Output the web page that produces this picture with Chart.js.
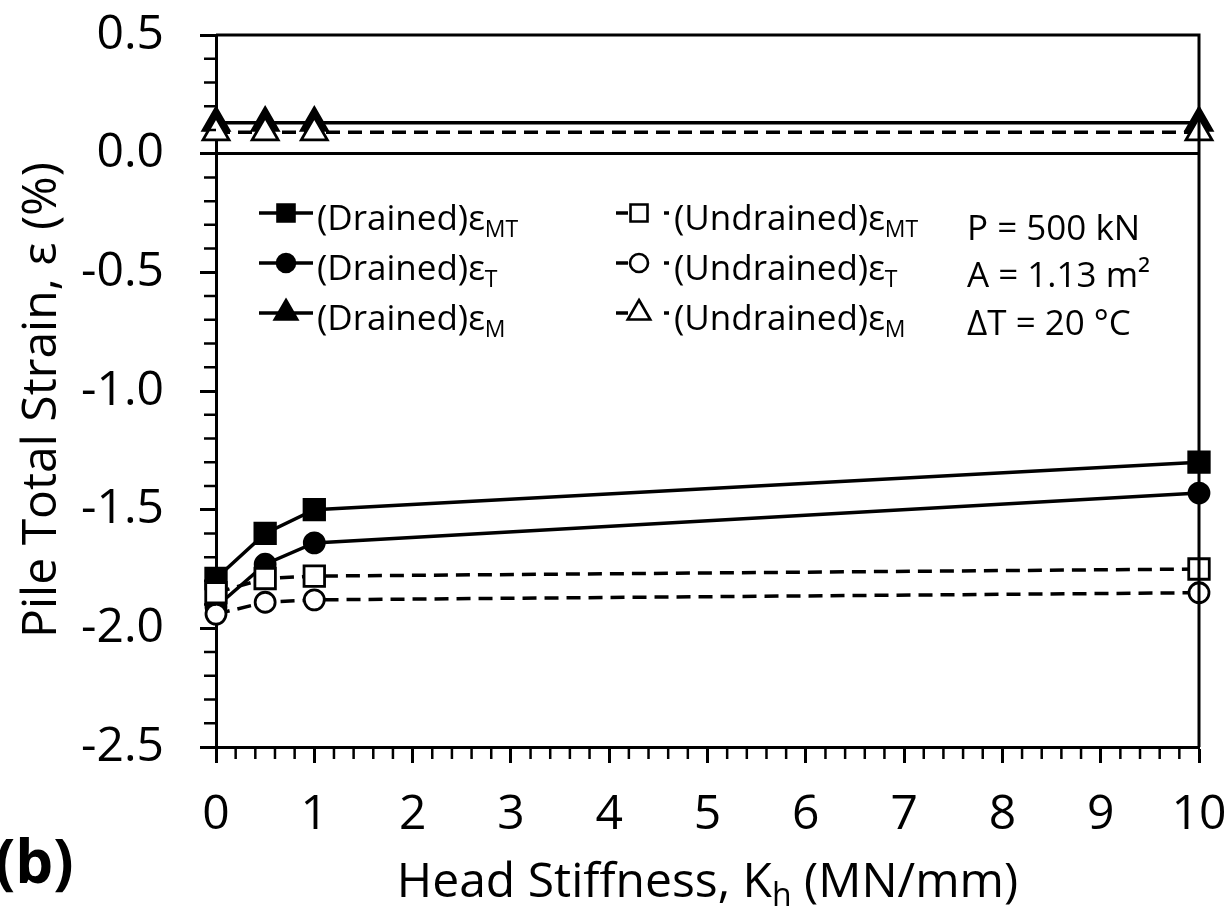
<!DOCTYPE html>
<html>
<head>
<meta charset="utf-8">
<script src="https://cdn.jsdelivr.net/npm/chart.js@4/dist/chart.umd.min.js"></script>
<style>
  html, body { margin: 0; padding: 0; background: #fff; }
  canvas { display: block; }
</style>
</head>
<body>
<canvas id="c" width="1230" height="909"></canvas>
<script>
// ---- data ----
const headStiffness = [0, 0.5, 1, 10];
const drainedMT   = [-1.79, -1.60, -1.50, -1.30];
const drainedT    = [-1.91, -1.73, -1.64, -1.43];
const drainedM    = [0.13, 0.13, 0.13, 0.13];
const undrainedMT = [-1.85, -1.79, -1.78, -1.75];
const undrainedT  = [-1.94, -1.89, -1.88, -1.85];
const undrainedM  = [0.09, 0.09, 0.09, 0.09];
const xTickValues = [0, 1, 2, 3, 4, 5, 6, 7, 8, 9, 10];
const yTickValues = [0.5, 0.0, -0.5, -1.0, -1.5, -2.0, -2.5];
const legendMain = ['(Drained)ε', '(Drained)ε', '(Drained)ε', '(Undrained)ε', '(Undrained)ε', '(Undrained)ε'];
const legendSub  = ['MT', 'T', 'M', 'MT', 'T', 'M'];
const notes = ['P = 500 kN', 'A = 1.13 m²', 'ΔT = 20 °C'];
const xTitleMain = 'Head Stiffness, K';
const xTitleSub = 'h';
const xTitleEnd = ' (MN/mm)';
const yTitle = 'Pile Total Strain, ε (%)';
const panelLabel = '(b)';

const FONT = '"Open Sans", "DejaVu Sans", sans-serif';
const pts = arr => headStiffness.map((x, i) => ({ x: x, y: arr[i] }));

function ds(label, arr, style, filled, dashed, radius) {
  return {
    label: label,
    data: pts(arr),
    borderColor: '#000',
    borderWidth: 3.5,
    borderDash: dashed ? [14, 8] : [],
    pointStyle: style,
    pointRadius: radius,
    pointBackgroundColor: filled ? '#000' : '#fff',
    pointBorderColor: '#000',
    pointBorderWidth: 2.8,
    tension: 0,
    clip: false,
    fill: false
  };
}

const datasets = [
  ds('(Undrained)εT', undrainedT, 'circle', false, true, 10),
  ds('(Undrained)εMT', undrainedMT, 'rect', false, true, 14.5),
  ds('(Undrained)εM', undrainedM, 'triangle', false, true, 15),
  ds('(Drained)εT', drainedT, 'circle', true, false, 10),
  ds('(Drained)εMT', drainedMT, 'rect', true, false, 14.5),
  ds('(Drained)εM', drainedM, 'triangle', true, false, 15)
];

const legendStyles = [
  { style: 'rect', filled: true, r: 12 },
  { style: 'circle', filled: true, r: 9 },
  { style: 'triangle', filled: true, r: 13 },
  { style: 'rect', filled: false, r: 12 },
  { style: 'circle', filled: false, r: 9 },
  { style: 'triangle', filled: false, r: 13 }
];

const decor = {
  id: 'decor',
  afterDraw(chart) {
    const c = chart.ctx;
    const xs = chart.scales.x, ys = chart.scales.y;
    const a = chart.chartArea;
    c.save();
    c.strokeStyle = '#000';
    c.fillStyle = '#000';
    // frame top & right
    c.lineWidth = 3;
    c.beginPath();
    c.moveTo(a.left, a.top); c.lineTo(a.right + 1.5, a.top);
    c.moveTo(a.right, a.top); c.lineTo(a.right, a.bottom);
    c.stroke();
    // minor ticks
    c.lineWidth = 2.5;
    c.beginPath();
    for (let i = -25; i <= 5; i++) {
      if (i % 5 === 0) continue;
      const py = ys.getPixelForValue(i / 10);
      c.moveTo(a.left - 12, py); c.lineTo(a.left, py);
    }
    for (let i = 0; i <= 50; i++) {
      if (i % 5 === 0) continue;
      const px = xs.getPixelForValue(i / 5);
      c.moveTo(px, a.bottom); c.lineTo(px, a.bottom + 12);
    }
    c.stroke();

    // legend
    const rowsY = [213, 263, 313];
    legendStyles.forEach((s, i) => {
      const col = i < 3 ? 0 : 1;
      const y = rowsY[i % 3];
      c.strokeStyle = '#000';
      c.lineWidth = 3.5;
      c.setLineDash([]);
      let mx, tx;
      if (col === 0) {
        c.beginPath(); c.moveTo(259, y); c.lineTo(313, y); c.stroke();
        mx = 286; tx = 317;
      } else {
        c.beginPath(); c.moveTo(616, y); c.lineTo(628, y); c.stroke();
        c.beginPath(); c.moveTo(664, y); c.lineTo(669, y); c.stroke();
        mx = 639; tx = 674;
      }
      c.fillStyle = s.filled ? '#000' : '#fff';
      c.lineWidth = 2.6;
      Chart.helpers.drawPoint(c, { pointStyle: s.style, radius: s.r, rotation: 0, borderWidth: 2.6 }, mx, y);
      c.fillStyle = '#000';
      c.textBaseline = 'alphabetic';
      c.textAlign = 'left';
      c.font = '35px ' + FONT;
      const base = y + 17;
      c.fillText(legendMain[i], tx, base);
      const w = c.measureText(legendMain[i]).width;
      c.font = '23px ' + FONT;
      c.fillText(legendSub[i], tx + w, base + 7);
    });
    // notes
    c.font = '35px ' + FONT;
    c.textAlign = 'left';
    const noteY = [240, 287, 335];
    notes.forEach((t, i) => c.fillText(t, 967, noteY[i]));

    // x title with subscript
    c.font = '48px ' + FONT;
    const w1 = c.measureText(xTitleMain).width;
    const w3 = c.measureText(xTitleEnd).width;
    c.font = '32px ' + FONT;
    const w2 = c.measureText(xTitleSub).width;
    const total = w1 + w2 + w3;
    let sx = (a.left + a.right) / 2 - total / 2;
    const by = 897;
    c.font = '48px ' + FONT;
    c.fillText(xTitleMain, sx, by);
    c.font = '32px ' + FONT;
    c.fillText(xTitleSub, sx + w1, by + 9);
    c.font = '48px ' + FONT;
    c.fillText(xTitleEnd, sx + w1 + w2, by);

    // y title
    c.save();
    c.translate(42, 400);
    c.rotate(-Math.PI / 2);
    c.textAlign = 'center';
    c.textBaseline = 'middle';
    c.font = '48px ' + FONT;
    c.fillText(yTitle, 0, 0);
    c.restore();

    // panel label
    c.font = 'bold 60px ' + FONT;
    c.textAlign = 'left';
    c.textBaseline = 'middle';
    c.fillText(panelLabel, -5, 866);
    c.restore();
  }
};

new Chart(document.getElementById('c'), {
  type: 'line',
  data: { datasets: datasets },
  options: {
    responsive: false,
    animation: false,
    layout: { padding: { top: 35, right: 31, left: 0, bottom: 0 } },
    plugins: { legend: { display: false }, tooltip: { enabled: false } },
    scales: {
      x: {
        type: 'linear', min: 0, max: 10,
        afterBuildTicks: s => { s.ticks = xTickValues.map(v => ({ value: v })); },
        ticks: { color: '#000', font: { family: FONT, size: 48 }, padding: 24, maxRotation: 0, autoSkip: false },
        grid: { drawOnChartArea: false, tickLength: 16, tickWidth: 3, tickColor: '#000' },
        border: { color: '#000', width: 3 },
        afterFit: s => { s.height = 162; s.paddingLeft = 0; s.paddingRight = 0; }
      },
      y: {
        type: 'linear', min: -2.5, max: 0.5,
        afterBuildTicks: s => { s.ticks = yTickValues.map(v => ({ value: v })); },
        ticks: {
          color: '#000', font: { family: FONT, size: 48 }, padding: 36, autoSkip: false,
          callback: v => v.toFixed(1)
        },
        grid: {
          color: c => (c.tick && c.tick.value === 0) ? '#000' : 'rgba(0,0,0,0)',
          lineWidth: 3, tickLength: 16, tickWidth: 3, tickColor: '#000'
        },
        border: { color: '#000', width: 3 },
        afterFit: s => { s.width = 216; s.paddingTop = 0; s.paddingBottom = 0; }
      }
    }
  },
  plugins: [decor]
});
</script>
</body>
</html>
